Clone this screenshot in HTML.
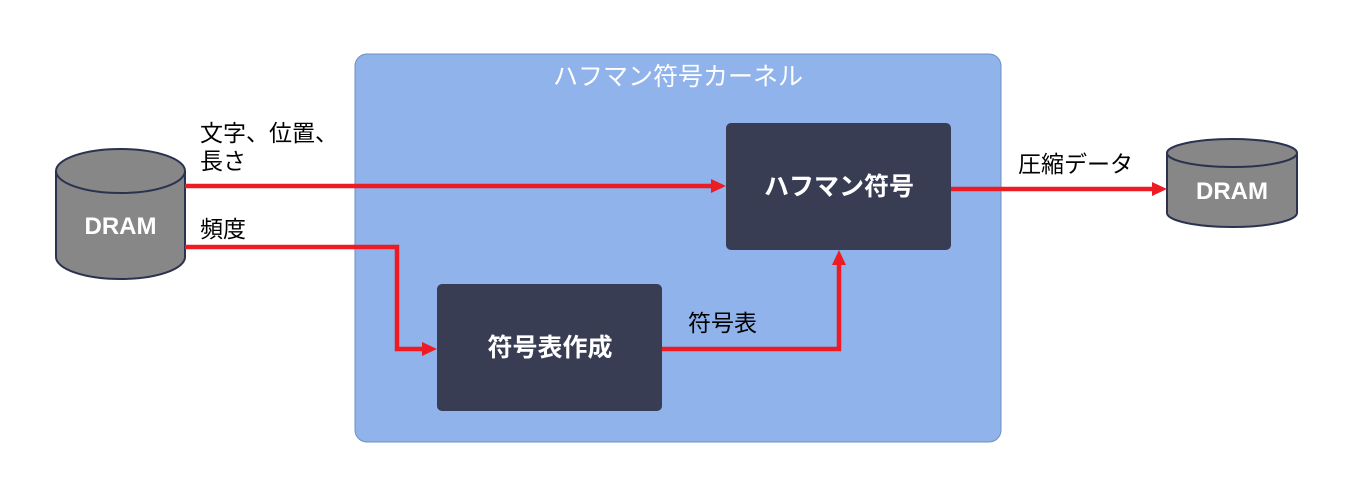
<!DOCTYPE html>
<html><head><meta charset="utf-8"><style>
html,body{margin:0;padding:0;background:#fff;}
svg{display:block;}
text{font-family:"Liberation Sans","Noto Sans CJK JP",sans-serif;}
</style></head><body>
<svg width="1345" height="499" viewBox="0 0 1345 499" xmlns="http://www.w3.org/2000/svg">
<rect x="355" y="54" width="646" height="388" rx="12" fill="#8fb3ea" stroke="#6d8fc4" stroke-width="1"/>
<text x="678" y="85" font-size="25" fill="#fff" text-anchor="middle">ハフマン符号カーネル</text>
<rect x="726" y="123" width="225" height="127" rx="5" fill="#383d54"/>
<text x="839" y="195" font-size="25" fill="#fff" font-weight="bold" text-anchor="middle">ハフマン符号</text>
<rect x="437" y="284" width="225" height="127" rx="5" fill="#383d54"/>
<text x="550" y="356" font-size="25" fill="#fff" font-weight="bold" text-anchor="middle">符号表作成</text>
<!-- left cylinder -->
<path d="M56,171 L56,257 A64.5,22 0 0 0 185,257 L185,171" fill="#878787" stroke="#2b3250" stroke-width="2"/>
<ellipse cx="120.5" cy="171" rx="64.5" ry="22" fill="#878787" stroke="#2b3250" stroke-width="2"/>
<text x="120.5" y="234" font-size="24" font-weight="bold" fill="#fff" text-anchor="middle">DRAM</text>
<!-- right cylinder -->
<path d="M1167,153 L1167,213 A65,14 0 0 0 1297,213 L1297,153" fill="#878787" stroke="#2b3250" stroke-width="2"/>
<ellipse cx="1232" cy="153" rx="65" ry="14" fill="#878787" stroke="#2b3250" stroke-width="2"/>
<text x="1232" y="199" font-size="24" font-weight="bold" fill="#fff" text-anchor="middle">DRAM</text>
<!-- arrows -->
<g stroke="#ed1c24" stroke-width="4.5" fill="none">
<path d="M185,186 L712,186"/>
<path d="M185,247 L397,247 L397,349 L423,349"/>
<path d="M662,349 L839,349 L839,264"/>
<path d="M951,189 L1153,189"/>
</g>
<g fill="#ed1c24">
<polygon points="711,179 726,186 711,193"/>
<polygon points="422,342 437,349 422,356"/>
<polygon points="832,265 839,250 846,265"/>
<polygon points="1152,182 1167,189 1152,196"/>
</g>
<text x="200" y="141" font-size="23" fill="#000">文字、位置、</text>
<text x="200" y="169" font-size="23" fill="#000">長さ</text>
<text x="200" y="237" font-size="23" fill="#000">頻度</text>
<text x="688" y="331" font-size="23" fill="#000">符号表</text>
<text x="1018" y="172" font-size="23" fill="#000">圧縮データ</text>
</svg>
</body></html>
